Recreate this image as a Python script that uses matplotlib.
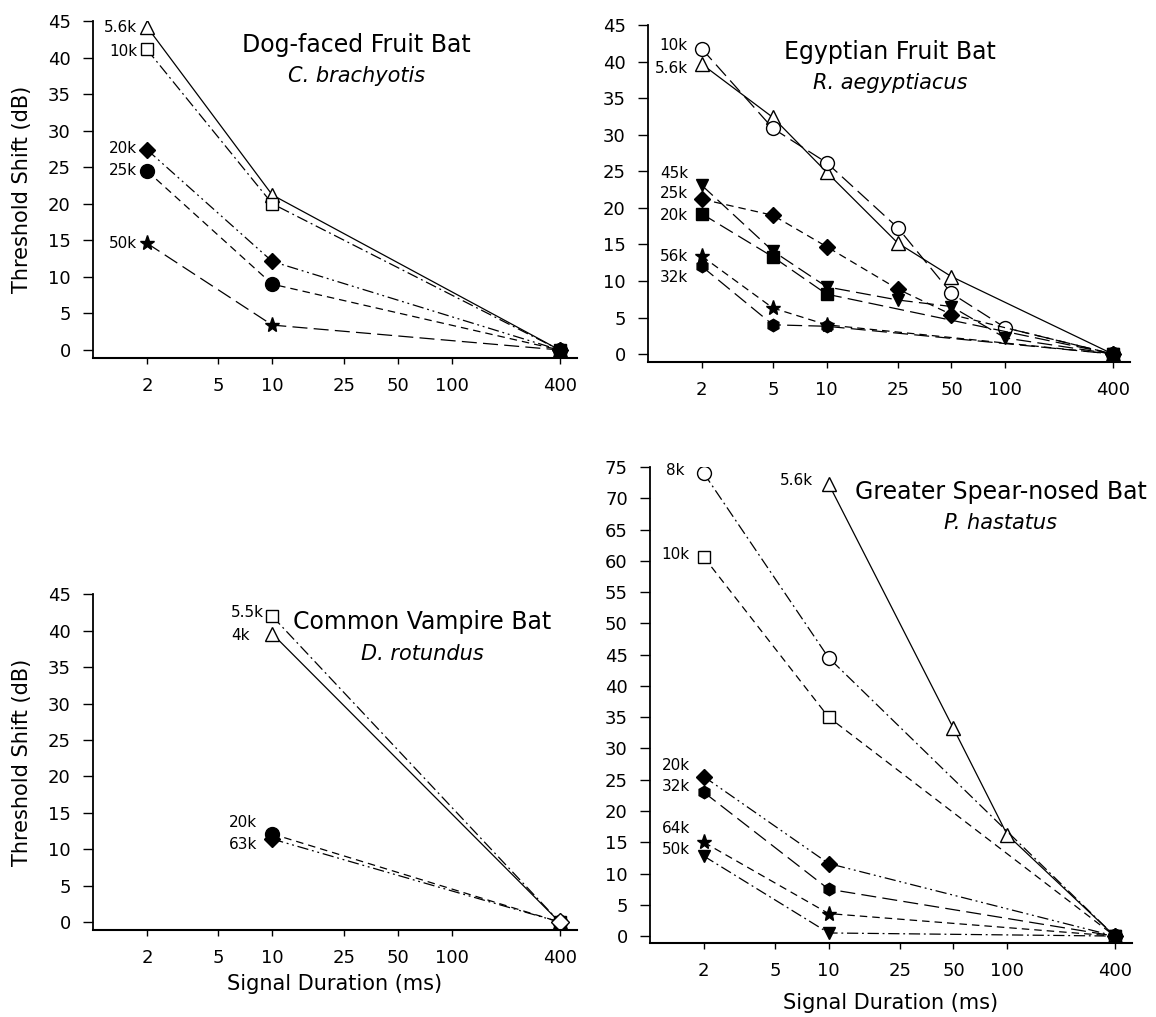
import matplotlib.pyplot as plt
from matplotlib.ticker import FixedLocator, NullLocator

plt.rcParams['font.family'] = ['DejaVu Sans']

xticks = [2, 5, 10, 25, 50, 100, 400]

# Dog-faced Fruit Bat
dog_x = [2, 10, 400]
dog_56k = [44.2, 21.2, 0]
dog_10k = [41.1, 20, 0]
dog_20k = [27.4, 12.1, 0]
dog_25k = [24.5, 9, 0]
dog_50k = [14.6, 3.4, 0]

# Egyptian Fruit Bat
egy_x = [2, 5, 10, 25, 50, 100, 400]
egy_10k = [41.8, 30.9, 26.2, 17.3, 8.3, 3.6, 0]
egy_56k_x = [2, 5, 10, 25, 50, 400]
egy_56k_tri = [39.7, 32.4, 24.9, 15.2, 10.6, 0]
egy_45k = [23.1, 14.1, 9.2, 7.4, 6.5, 2.2, 0]
egy_25k_x = [2, 5, 10, 25, 50, 400]
egy_25k = [21.2, 19, 14.7, 8.9, 5.4, 0]
egy_short_x = [2, 5, 10, 400]
egy_20k = [19.2, 13.3, 8.2, 0]
egy_56k = [13.4, 6.3, 4.0, 0]
egy_32k = [12, 4, 3.8, 0]

# Common Vampire Bat
vamp_x = [10, 400]
vamp_55k = [42, 0]
vamp_4k = [39.6, 0]
vamp_20k = [12.1, 0]
vamp_63k = [11.4, 0]

# Greater Spear-nosed Bat
spear_x = [2, 10, 400]
spear_8k = [74, 44.5, 0]
spear_56k_x = [10, 50, 100, 400]
spear_56k = [72.3, 33.2, 16.2, 0]
spear_10k = [60.6, 35, 0]
spear_20k = [25.5, 11.6, 0]
spear_32k = [23, 7.5, 0]
spear_64k = [15, 3.6, 0]
spear_50k = [12.8, 0.5, 0]

SOLID = '-'
DASHDOT = (0, (9, 3, 1.5, 3))
DASHDOT2 = (0, (9, 3, 1.5, 3, 1.5, 3))
DASH = (0, (6, 4))
LDASH = (0, (12, 5))

fig = plt.figure(figsize=(11.56, 10.17), dpi=100)


def setup(ax, ymax, ybot):
    ax.set_xscale('log')
    ax.set_xlim(1, 500)
    ax.set_ylim(ybot, ymax)
    ax.xaxis.set_major_locator(FixedLocator(xticks))
    ax.xaxis.set_minor_locator(NullLocator())
    ax.set_xticklabels([str(t) for t in xticks])
    ax.set_yticks(range(0, ymax + 1, 5))
    for s in ['top', 'right']:
        ax.spines[s].set_visible(False)
    ax.spines['left'].set_linewidth(1.3)
    ax.spines['bottom'].set_linewidth(1.5)
    ax.tick_params(axis='y', direction='out', length=7, width=1, labelsize=13, pad=9)
    ax.tick_params(axis='x', direction='out', length=4, width=1, labelsize=13, pad=10)


def series(ax, x, y, marker, filled, ls, ms=9):
    fc = 'black' if filled else 'white'
    ax.plot(x, y, color='black', lw=0.9, linestyle=ls, marker=marker, ms=ms,
            markerfacecolor=fc, markeredgecolor='black', markeredgewidth=1.0)


def lab(ax, x, y, text, dx=-7):
    ax.annotate(text, (x, y), xytext=(dx, 0), textcoords='offset points',
                ha='right', va='center', fontsize=11)


def title(ax, x, y1, y2, name, latin):
    ax.text(x, y1, name, transform=ax.transAxes, ha='center', va='center', fontsize=17)
    ax.text(x, y2, latin, transform=ax.transAxes, ha='center', va='center',
            fontsize=15, style='italic')


# Panel 1
ax1 = fig.add_axes([0.0804, 0.648, 0.4187, 0.3314])
setup(ax1, 45, -1.1)
series(ax1, dog_x, dog_56k, '^', False, SOLID, ms=10)
series(ax1, dog_x, dog_10k, 's', False, DASHDOT)
series(ax1, dog_x, dog_50k, '*', True, LDASH, ms=11)
series(ax1, dog_x, dog_20k, 'D', True, DASHDOT2, ms=8)
series(ax1, dog_x, dog_25k, 'o', True, DASH, ms=10)
lab(ax1, 2, 44.1, '5.6k')
lab(ax1, 2, 40.8, '10k')
lab(ax1, 2, 27.6, '20k')
lab(ax1, 2, 24.6, '25k')
lab(ax1, 2, 14.6, '50k')
title(ax1, 0.545, 0.929, 0.837, 'Dog-faced Fruit Bat', 'C. brachyotis')
ax1.set_ylabel('Threshold Shift (dB)', fontsize=15, labelpad=11)

# Panel 2
ax2 = fig.add_axes([0.5606, 0.644, 0.417, 0.331])
setup(ax2, 45, -1.1)
series(ax2, egy_56k_x, egy_56k_tri, '^', False, SOLID, ms=10)
series(ax2, egy_x, egy_10k, 'o', False, LDASH, ms=10)
series(ax2, egy_short_x, egy_56k, '*', True, DASH, ms=11)
series(ax2, egy_short_x, egy_20k, 's', True, LDASH, ms=8)
series(ax2, egy_25k_x, egy_25k, 'D', True, DASH, ms=8)
series(ax2, egy_x, egy_45k, 'v', True, LDASH)
series(ax2, egy_short_x, egy_32k, 'h', True, LDASH)
lab(ax2, 2, 42.3, '10k', dx=-10)
lab(ax2, 2, 39.1, '5.6k', dx=-10)
lab(ax2, 2, 24.7, '45k', dx=-10)
lab(ax2, 2, 22, '25k', dx=-10)
lab(ax2, 2, 19, '20k', dx=-10)
lab(ax2, 2, 13.3, '56k', dx=-10)
lab(ax2, 2, 10.5, '32k', dx=-10)
title(ax2, 0.502, 0.92, 0.828, 'Egyptian Fruit Bat', 'R. aegyptiacus')

# Panel 3
ax3 = fig.add_axes([0.0804, 0.0855, 0.4187, 0.330])
setup(ax3, 45, -1.1)
series(ax3, vamp_x, vamp_4k, '^', False, SOLID, ms=10)
series(ax3, vamp_x, vamp_55k, 's', False, DASHDOT)
series(ax3, vamp_x, vamp_20k, 'o', True, DASH, ms=10)
series(ax3, vamp_x, vamp_63k, 'D', True, DASHDOT2, ms=8)
ax3.plot(vamp_x[-1], vamp_63k[-1], 'D', ms=9, markerfacecolor='white',
         markeredgecolor='black', markeredgewidth=1.0)
lab(ax3, 10, 42.5, '5.5k', dx=-6)
lab(ax3, 10, 39.3, '4k', dx=-16)
lab(ax3, 10, 13.7, '20k', dx=-11)
lab(ax3, 10, 10.7, '63k', dx=-11)
title(ax3, 0.68, 0.917, 0.824, 'Common Vampire Bat', 'D. rotundus')
ax3.set_ylabel('Threshold Shift (dB)', fontsize=15, labelpad=11)
ax3.set_xlabel('Signal Duration (ms)', fontsize=15, labelpad=5)

# Panel 4
ax4 = fig.add_axes([0.5623, 0.0728, 0.417, 0.468])
setup(ax4, 75, -1.1)
series(ax4, spear_56k_x, spear_56k, '^', False, SOLID, ms=10)
series(ax4, spear_x, spear_10k, 's', False, DASH)
series(ax4, spear_x, spear_8k, 'o', False, DASHDOT, ms=10)
series(ax4, spear_x, spear_50k, 'v', True, DASHDOT)
series(ax4, spear_x, spear_64k, '*', True, DASH, ms=11)
series(ax4, spear_x, spear_20k, 'D', True, DASHDOT2, ms=8)
series(ax4, spear_x, spear_32k, 'h', True, LDASH)
lab(ax4, 2, 74.4, '8k', dx=-14)
lab(ax4, 10, 72.8, '5.6k', dx=-11)
lab(ax4, 2, 61, '10k', dx=-10)
lab(ax4, 2, 27.3, '20k', dx=-10)
lab(ax4, 2, 23.9, '32k', dx=-10)
lab(ax4, 2, 17.2, '64k', dx=-10)
lab(ax4, 2, 13.8, '50k', dx=-10)
title(ax4, 0.727, 0.947, 0.882, 'Greater Spear-nosed Bat', 'P. hastatus')
ax4.set_xlabel('Signal Duration (ms)', fontsize=15, labelpad=9)

fig.savefig('out.png', dpi=100)
